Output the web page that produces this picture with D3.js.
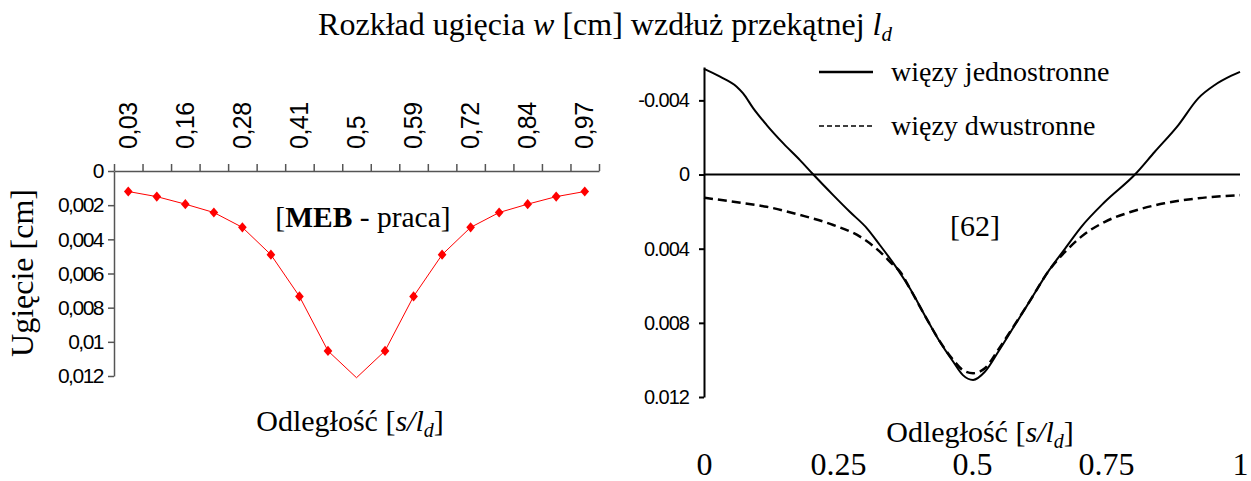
<!DOCTYPE html>
<html>
<head>
<meta charset="utf-8">
<script src="https://cdn.jsdelivr.net/npm/d3@7"></script>
<style>
  body { margin: 0; background: #fff; }
  svg { display: block; }
  .serif { font-family: 'Liberation Serif', 'Times New Roman', serif; fill: #000; }
  .sans text { font-family: 'Liberation Sans', Arial, sans-serif; }
</style>
</head>
<body>
<div id="chart"></div>
<script>
// left panel: MEB results, category axis
const categories = ['0,03', '0,09', '0,16', '0,22', '0,28', '0,34', '0,41', '0,47', '0,5',
  '0,53', '0,59', '0,66', '0,72', '0,78', '0,84', '0,91', '0,97'];
const mebValues = [0.0012, 0.0015, 0.00194, 0.00243, 0.0033, 0.0049, 0.00734, 0.01053, 0.0121,
  0.01053, 0.00734, 0.0049, 0.0033, 0.00243, 0.00194, 0.0015, 0.0012];
const mebNoMarker = ['0,5'];
const leftYTicks = [0, 0.002, 0.004, 0.006, 0.008, 0.01, 0.012];

// right panel: curves from [62]
const oneSidedS = [0, 0.03, 0.061, 0.073, 0.092, 0.117, 0.148, 0.179, 0.204, 0.241, 0.272, 0.304,
  0.328, 0.36, 0.384, 0.415, 0.44, 0.465, 0.483, 0.502, 0.524, 0.549, 0.58, 0.611, 0.642, 0.674,
  0.704, 0.748, 0.804, 0.841, 0.885, 0.922, 0.953, 0.984, 1];
const oneSidedW = [-0.0057, -0.00528, -0.00474, -0.00438, -0.00357, -0.00267, -0.00168, -0.00078,
  0, 0.00111, 0.00201, 0.0029, 0.0038, 0.00506, 0.00614, 0.00776, 0.00902, 0.0101, 0.01082, 0.01108,
  0.01064, 0.00956, 0.00812, 0.00668, 0.00524, 0.00398, 0.00282, 0.00147, 0, -0.00123, -0.00267,
  -0.00411, -0.00483, -0.00533, -0.00554];
const twoSidedS = [0, 0.055, 0.117, 0.179, 0.241, 0.291, 0.328, 0.353, 0.366, 0.384, 0.415, 0.44,
  0.465, 0.483, 0.502, 0.524, 0.549, 0.58, 0.611, 0.642, 0.674, 0.704, 0.748, 0.797, 0.859, 0.922, 1];
const twoSidedW = [0.00125, 0.00147, 0.00174, 0.00218, 0.00272, 0.00335, 0.00416, 0.00488, 0.00524,
  0.00614, 0.00776, 0.009, 0.01, 0.01055, 0.01072, 0.01045, 0.00945, 0.00808, 0.00668, 0.00524,
  0.00416, 0.00335, 0.00255, 0.00201, 0.00155, 0.00128, 0.00111];
const rightYTicks = [-0.004, 0, 0.004, 0.008, 0.012];
const rightXTicks = [0, 0.25, 0.5, 0.75, 1];
const legendLabels = ['więzy jednostronne', 'więzy dwustronne'];

const width = 1251;
const height = 481;

const svg = d3.select('#chart')
  .append('svg')
  .attr('width', width)
  .attr('height', height);

// title
const title = svg.append('text')
  .attr('class', 'serif')
  .attr('x', 605)
  .attr('y', 35)
  .attr('text-anchor', 'middle')
  .style('font-size', '32px');
title.append('tspan').text('Rozkład ugięcia ');
title.append('tspan').style('font-style', 'italic').text('w');
title.append('tspan').text(' [cm] wzdłuż przekątnej ');
title.append('tspan').style('font-style', 'italic').text('l');
title.append('tspan').style('font-style', 'italic').style('font-size', '21px').attr('dy', 6).text('d');

function axisTitle(g, x, y) {
  const t = g.append('text')
    .attr('class', 'serif')
    .attr('x', x)
    .attr('y', y)
    .attr('text-anchor', 'middle')
    .style('font-size', '30px');
  t.append('tspan').text('Odległość [');
  t.append('tspan').style('font-style', 'italic').text('s/l');
  t.append('tspan').style('font-style', 'italic').style('font-size', '20px').attr('dy', 6).text('d');
  t.append('tspan').attr('dy', -6).text(']');
}

// ---------- left panel ----------
const left = svg.append('g');

const x = d3.scaleBand()
  .domain(categories)
  .range([114, 599]);

const xIdx = d3.scaleLinear()
  .domain([0, categories.length])
  .range([114, 599]);

const yL = d3.scaleLinear()
  .domain([0, 0.012])
  .range([171, 376]);

// tick marks at category boundaries
left.append('g')
  .attr('transform', `translate(0,${yL(0)})`)
  .call(d3.axisTop(xIdx).tickValues(d3.range(categories.length + 1)).tickFormat('').tickSize(7).tickSizeOuter(0))
  .call(g => g.selectAll('line, path').attr('stroke', '#555').attr('stroke-width', 1.5));

// category labels, every second one
left.append('g')
  .attr('class', 'sans')
  .attr('transform', `translate(0,${yL(0)})`)
  .call(d3.axisTop(x).tickValues(categories.filter((d, i) => i % 2 === 0)).tickSize(0).tickPadding(0))
  .call(g => g.select('.domain').remove())
  .call(g => g.selectAll('text')
    .attr('transform', 'rotate(-90)')
    .attr('x', 22)
    .attr('y', 0)
    .attr('dy', '0.35em')
    .attr('text-anchor', 'start')
    .style('font-size', '25px')
    .style('letter-spacing', '-0.5px')
    .attr('fill', '#000'));

left.append('g')
  .attr('class', 'sans')
  .attr('transform', `translate(${xIdx(0)},0)`)
  .call(d3.axisLeft(yL).tickValues(leftYTicks).tickSize(6).tickPadding(5).tickSizeOuter(0)
    .tickFormat(d => String(d).replace('.', ',')))
  .call(g => g.selectAll('line, path').attr('stroke', '#555').attr('stroke-width', 1.5))
  .call(g => g.selectAll('text')
    .style('font-size', '21px')
    .style('letter-spacing', '-1.5px')
    .attr('fill', '#000'));

const mebData = categories.map((c, i) => ({ c, v: mebValues[i] }));

left.append('path')
  .datum(mebData)
  .attr('fill', 'none')
  .attr('stroke', '#ff0000')
  .attr('stroke-width', 1)
  .attr('d', d3.line()
    .x(d => x(d.c) + x.bandwidth() / 2)
    .y(d => yL(d.v)));

left.selectAll('.marker')
  .data(mebData.filter(d => !mebNoMarker.includes(d.c)))
  .enter()
  .append('path')
  .attr('class', 'marker')
  .attr('d', d3.symbol(d3.symbolSquare, 52)())
  .attr('transform', d => `translate(${x(d.c) + x.bandwidth() / 2},${yL(d.v)}) scale(0.85,1) rotate(45)`)
  .attr('fill', '#ff0000');

const meb = left.append('text')
  .attr('class', 'serif')
  .attr('x', 363)
  .attr('y', 227)
  .attr('text-anchor', 'middle')
  .style('font-size', '29.5px');
meb.append('tspan').text('[');
meb.append('tspan').style('font-weight', 'bold').text('MEB');
meb.append('tspan').text(' - praca]');

left.append('text')
  .attr('class', 'serif')
  .attr('transform', 'translate(33,273) rotate(-90)')
  .attr('text-anchor', 'middle')
  .style('font-size', '32px')
  .text('Ugięcie [cm]');

axisTitle(left, 350, 431);

// ---------- right panel ----------
const right = svg.append('g');

const xR = d3.scaleLinear()
  .domain([0, 1])
  .range([704, 1240]);

const yR = d3.scaleLinear()
  .domain([-0.0058, 0.012])
  .range([67, 397]);

right.append('g')
  .attr('class', 'sans')
  .attr('transform', `translate(${xR(0)},0)`)
  .call(d3.axisLeft(yR).tickValues(rightYTicks).tickSize(5).tickPadding(10).tickSizeOuter(0)
    .tickFormat(d => d === 0 ? '0' : d3.format('.3f')(d).replace('−', '-')))
  .call(g => g.selectAll('line, path').attr('stroke', '#000').attr('stroke-width', 2))
  .call(g => g.selectAll('text')
    .style('font-size', '20px')
    .style('letter-spacing', '-1px')
    .attr('fill', '#000'));

// zero line
right.append('line')
  .attr('x1', xR(0))
  .attr('x2', xR(1))
  .attr('y1', yR(0))
  .attr('y2', yR(0))
  .attr('stroke', '#000')
  .attr('stroke-width', 2);

right.append('g')
  .attr('class', 'serif')
  .attr('transform', `translate(0,${yR(0.012) + 55})`)
  .call(d3.axisBottom(xR).tickValues(rightXTicks).tickSize(0).tickPadding(0).tickFormat(d3.format('')))
  .call(g => g.select('.domain').remove())
  .call(g => g.selectAll('text')
    .style('font-family', "'Liberation Serif', 'Times New Roman', serif")
    .style('font-size', '32px')
    .attr('fill', '#000'));

const curve = d3.line()
  .x(d => xR(d[0]))
  .y(d => yR(d[1]))
  .curve(d3.curveMonotoneX);

right.append('path')
  .datum(d3.zip(twoSidedS, twoSidedW))
  .attr('fill', 'none')
  .attr('stroke', '#000')
  .attr('stroke-width', 2.5)
  .attr('stroke-dasharray', '9,5')
  .attr('d', curve);

right.append('path')
  .datum(d3.zip(oneSidedS, oneSidedW))
  .attr('fill', 'none')
  .attr('stroke', '#000')
  .attr('stroke-width', 2)
  .attr('d', curve);

// legend
const legend = right.selectAll('.legend')
  .data(legendLabels)
  .enter()
  .append('g')
  .attr('class', 'legend')
  .attr('transform', (d, i) => `translate(819,${72 + i * 54})`);

legend.append('line')
  .attr('x1', 0)
  .attr('x2', 54)
  .attr('stroke', '#000')
  .attr('stroke-width', (d, i) => i === 0 ? 2.5 : 1.5)
  .attr('stroke-dasharray', (d, i) => i === 0 ? null : '5,3');

legend.append('text')
  .attr('class', 'serif')
  .attr('x', 72)
  .attr('y', 9)
  .style('font-size', '28px')
  .text(d => d);

right.append('text')
  .attr('class', 'serif')
  .attr('x', 975)
  .attr('y', 236)
  .attr('text-anchor', 'middle')
  .style('font-size', '30px')
  .text('[62]');

axisTitle(right, 980, 442);
</script>
</body>
</html>
